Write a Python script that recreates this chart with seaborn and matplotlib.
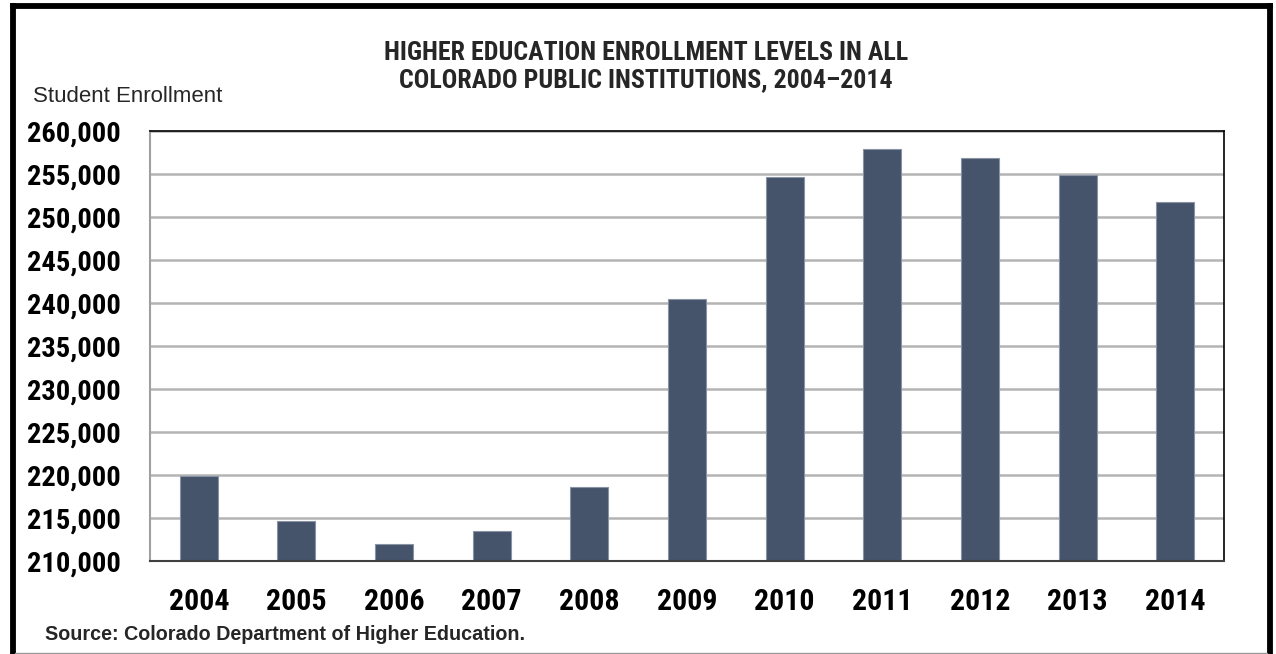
import matplotlib
matplotlib.use("Agg")
import matplotlib.pyplot as plt
from matplotlib.lines import Line2D
from matplotlib.ticker import FuncFormatter
import seaborn as sns
import pandas as pd

years = ["2004", "2005", "2006", "2007", "2008", "2009", "2010", "2011", "2012", "2013", "2014"]
enrollment = [219900, 214650, 212000, 213500, 218650, 240450, 254600, 257850, 256900, 254900, 251700]
y_ticks = [210000, 215000, 220000, 225000, 230000, 235000, 240000, 245000, 250000, 255000, 260000]

title = "HIGHER EDUCATION ENROLLMENT LEVELS IN ALL\nCOLORADO PUBLIC INSTITUTIONS, 2004\u20132014"
ylabel = "Student Enrollment"
source = "Source: Colorado Department of Higher Education."

narrow = "Roboto Condensed"
regular = "Liberation Sans"

sns.set_theme(style="white")
plt.rcParams["font.family"] = [regular, "DejaVu Sans"]

df = pd.DataFrame({"year": years, "enrollment": enrollment})

W, H = 1276, 654
fig = plt.figure(figsize=(W / 100, H / 100), dpi=100)
ax = fig.add_axes([150 / W, 1 - 561 / H, (1224 - 150) / W, (561 - 131) / H])

sns.barplot(data=df, x="year", y="enrollment", color="#45536b", width=0.39,
            edgecolor="#8a93a3", linewidth=0.8, saturation=1, ax=ax, zorder=3)

ax.set_ylim(210000, 260000)
ax.set_yticks(y_ticks)
ax.yaxis.set_major_formatter(FuncFormatter(lambda v, p: f"{int(v):,}"))
ax.grid(axis="y", color="#b4b4b4", linewidth=1.8, zorder=0)
ax.grid(axis="x", visible=False)
ax.set_xlabel("")
ax.set_ylabel("")

for lab in ax.get_yticklabels():
    lab.set_fontfamily([narrow, "DejaVu Sans"])
    lab.set_fontweight("bold")
    lab.set_fontsize(20.5)
    lab.set_color("black")
for lab in ax.get_xticklabels():
    lab.set_fontfamily([narrow, "DejaVu Sans"])
    lab.set_fontweight("bold")
    lab.set_fontsize(21.5)
    lab.set_color("black")
ax.tick_params(axis="y", length=0, pad=21)
ax.tick_params(axis="x", length=0, pad=19.5)

ax.spines["top"].set_color("black")
ax.spines["top"].set_linewidth(1.2)
ax.spines["right"].set_color("black")
ax.spines["right"].set_linewidth(1.2)
ax.spines["left"].set_color("#a0a0a0")
ax.spines["left"].set_linewidth(1.5)
ax.spines["bottom"].set_color("#404040")
ax.spines["bottom"].set_linewidth(1.5)
for s in ax.spines.values():
    s.set_zorder(4)

fig.text(646 / W, 1 - 66.5 / H, title, ha="center", va="center", fontsize=18.6,
         fontweight="bold", family=[narrow, "DejaVu Sans"], linespacing=1.17)
fig.text(33 / W, 1 - 97 / H, ylabel, ha="left", va="center", fontsize=16,
         family=[regular, "DejaVu Sans"])
fig.text(45 / W, 1 - 635 / H, source, ha="left", va="center", fontsize=14.2,
         fontweight="bold", family=[regular, "DejaVu Sans"])

# outer frame: thick black left, top and right edges; thin gray bottom
lw = 4.2
fig.add_artist(Line2D([12.5 / W, 12.5 / W], [0, 1 - 5.5 / H], color="black", lw=lw,
                      solid_capstyle="projecting", transform=fig.transFigure))
fig.add_artist(Line2D([12.5 / W, 1269.5 / W], [1 - 5.5 / H, 1 - 5.5 / H], color="black", lw=lw,
                      solid_capstyle="projecting", transform=fig.transFigure))
fig.add_artist(Line2D([1269.5 / W, 1269.5 / W], [0, 1 - 5.5 / H], color="black", lw=lw,
                      solid_capstyle="projecting", transform=fig.transFigure))
fig.add_artist(Line2D([15 / W, 1267 / W], [1.5 / H, 1.5 / H], color="#9a9a9a", lw=1.0,
                      transform=fig.transFigure))

fig.savefig("out.png", dpi=100, facecolor="white")
